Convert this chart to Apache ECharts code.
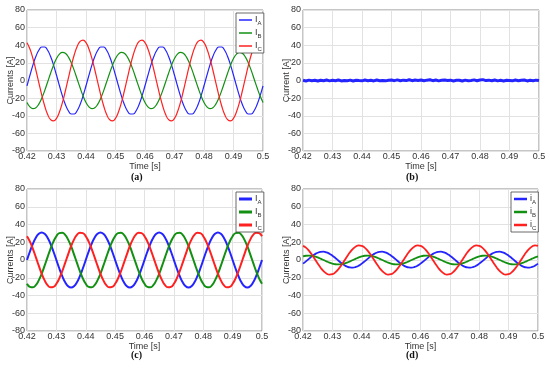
<!DOCTYPE html>
<html><head><meta charset="utf-8">
<script src="https://cdn.jsdelivr.net/npm/echarts@6/dist/echarts.min.js"></script>
<style>html,body{margin:0;padding:0;background:#fff}#c{width:550px;height:369px}</style>
</head><body><div id="c"></div>
<script>
// time samples [s]
const timeS = [0.42,0.421,0.422,0.423,0.424,0.425,0.426,0.427,0.428,0.429,0.43,0.431,0.432,0.433,0.434,0.435,0.436,0.437,0.438,0.439,0.44,0.441,0.442,0.443,0.444,0.445,0.446,0.447,0.448,0.449,0.45,0.451,0.452,0.453,0.454,0.455,0.456,0.457,0.458,0.459,0.46,0.461,0.462,0.463,0.464,0.465,0.466,0.467,0.468,0.469,0.47,0.471,0.472,0.473,0.474,0.475,0.476,0.477,0.478,0.479,0.48,0.481,0.482,0.483,0.484,0.485,0.486,0.487,0.488,0.489,0.49,0.491,0.492,0.493,0.494,0.495,0.496,0.497,0.498,0.499,0.5];
const xTicks = [0.42,0.43,0.44,0.45,0.46,0.47,0.48,0.49,0.5];
const yTicks = [-80,-60,-40,-20,0,20,40,60,80];

// (a) currents [A]
const aA = [-6.0,6.0,17.5,27.2,34.3,38.0,38.0,34.3,27.2,17.5,6.0,-6.0,-17.5,-27.2,-34.3,-38.0,-38.0,-34.3,-27.2,-17.5,
  -6.0,6.0,17.5,27.2,34.3,38.0,38.0,34.3,27.2,17.5,6.0,-6.0,-17.5,-27.2,-34.3,-38.0,-38.0,-34.3,-27.2,-17.5,
  -6.0,6.0,17.5,27.2,34.3,38.0,38.0,34.3,27.2,17.5,6.0,-6.0,-17.5,-27.2,-34.3,-38.0,-38.0,-34.3,-27.2,-17.5,
  -6.0,6.0,17.5,27.2,34.3,38.0,38.0,34.3,27.2,17.5,6.0,-6.0,-17.5,-27.2,-34.3,-38.0,-38.0,-34.3,-27.2,-17.5, -6.0];
const aB = [-24.9,-29.9,-32.0,-30.9,-26.8,-20.1,-11.5,-1.7,8.3,17.4,24.9,29.9,32.0,30.9,26.8,20.1,11.5,1.7,-8.3,-17.4,
  -24.9,-29.9,-32.0,-30.9,-26.8,-20.1,-11.5,-1.7,8.3,17.4,24.9,29.9,32.0,30.9,26.8,20.1,11.5,1.7,-8.3,-17.4,
  -24.9,-29.9,-32.0,-30.9,-26.8,-20.1,-11.5,-1.7,8.3,17.4,24.9,29.9,32.0,30.9,26.8,20.1,11.5,1.7,-8.3,-17.4,
  -24.9,-29.9,-32.0,-30.9,-26.8,-20.1,-11.5,-1.7,8.3,17.4,24.9,29.9,32.0,30.9,26.8,20.1,11.5,1.7,-8.3,-17.4, -24.9];
const aC = [42.9,35.7,25.1,11.9,-2.4,-16.5,-28.9,-38.6,-44.4,-45.9,-42.9,-35.7,-25.1,-11.9,2.4,16.5,28.9,38.6,44.4,45.9,
  42.9,35.7,25.1,11.9,-2.4,-16.5,-28.9,-38.6,-44.4,-45.9,-42.9,-35.7,-25.1,-11.9,2.4,16.5,28.9,38.6,44.4,45.9,
  42.9,35.7,25.1,11.9,-2.4,-16.5,-28.9,-38.6,-44.4,-45.9,-42.9,-35.7,-25.1,-11.9,2.4,16.5,28.9,38.6,44.4,45.9,
  42.9,35.7,25.1,11.9,-2.4,-16.5,-28.9,-38.6,-44.4,-45.9,-42.9,-35.7,-25.1,-11.9,2.4,16.5,28.9,38.6,44.4,45.9, 42.9];
// (b) current [A]
const bI = [0.3,-0.5,0.4,-0.3,0.2,-0.6,0.3,-0.2,0.5,-0.4, 0.2,-0.3,0.6,-0.5,0.1,-0.2,0.4,-0.6,0.3,-0.1, -0.4,0.5,-0.3,0.2,-0.5,0.6,-0.2,0.1,-0.4,0.3, 0.5,-0.2,0.7,-0.3,0.4,-0.1,0.9,-0.2,0.5,0.1, 0.6,-0.3,0.4,0.9,-0.2,0.5,-0.4,0.3,0.6,-0.1, 0.4,-0.5,0.2,0.3,-0.6,0.4,-0.2,0.1,0.7,-0.3, 0.5,1.0,-0.1,0.4,-0.3,0.6,-0.4,0.2,-0.5,0.3, 0.1,-0.4,0.5,-0.2,0.3,0.6,-0.5,0.2,-0.3,0.4, -0.1];
// (c) currents [A]
const cA = [0,9.6,18.2,25.1,29.5,31.0,29.5,25.1,18.2,9.6,0,-9.6,-18.2,-25.1,-29.5,-31.0,-29.5,-25.1,-18.2,-9.6,
  0,9.6,18.2,25.1,29.5,31.0,29.5,25.1,18.2,9.6,0,-9.6,-18.2,-25.1,-29.5,-31.0,-29.5,-25.1,-18.2,-9.6,
  0,9.6,18.2,25.1,29.5,31.0,29.5,25.1,18.2,9.6,0,-9.6,-18.2,-25.1,-29.5,-31.0,-29.5,-25.1,-18.2,-9.6,
  0,9.6,18.2,25.1,29.5,31.0,29.5,25.1,18.2,9.6,0,-9.6,-18.2,-25.1,-29.5,-31.0,-29.5,-25.1,-18.2,-9.6, 0];
const cB = [-26.8,-30.3,-30.8,-28.3,-23.0,-15.5,-6.4,3.3,12.6,20.7,26.8,30.3,30.8,28.3,23.0,15.5,6.4,-3.3,-12.6,-20.7,
  -26.8,-30.3,-30.8,-28.3,-23.0,-15.5,-6.4,3.3,12.6,20.7,26.8,30.3,30.8,28.3,23.0,15.5,6.4,-3.3,-12.6,-20.7,
  -26.8,-30.3,-30.8,-28.3,-23.0,-15.5,-6.4,3.3,12.6,20.7,26.8,30.3,30.8,28.3,23.0,15.5,6.4,-3.3,-12.6,-20.7,
  -26.8,-30.3,-30.8,-28.3,-23.0,-15.5,-6.4,3.3,12.6,20.7,26.8,30.3,30.8,28.3,23.0,15.5,6.4,-3.3,-12.6,-20.7, -26.8];
const cC = [26.8,20.7,12.6,3.3,-6.4,-15.5,-23.0,-28.3,-30.8,-30.3,-26.8,-20.7,-12.6,-3.3,6.4,15.5,23.0,28.3,30.8,30.3,
  26.8,20.7,12.6,3.3,-6.4,-15.5,-23.0,-28.3,-30.8,-30.3,-26.8,-20.7,-12.6,-3.3,6.4,15.5,23.0,28.3,30.8,30.3,
  26.8,20.7,12.6,3.3,-6.4,-15.5,-23.0,-28.3,-30.8,-30.3,-26.8,-20.7,-12.6,-3.3,6.4,15.5,23.0,28.3,30.8,30.3,
  26.8,20.7,12.6,3.3,-6.4,-15.5,-23.0,-28.3,-30.8,-30.3,-26.8,-20.7,-12.6,-3.3,6.4,15.5,23.0,28.3,30.8,30.3, 26.8];
// (d) currents [A]
const dA = [-4.1,-1.5,1.3,4.1,6.4,8.2,9.2,9.4,8.6,7.1,4.9,2.3,-0.5,-3.3,-5.6,-7.4,-8.4,-8.6,-7.8,-6.3,
  -4.1,-1.5,1.3,4.1,6.4,8.2,9.2,9.4,8.6,7.1,4.9,2.3,-0.5,-3.3,-5.6,-7.4,-8.4,-8.6,-7.8,-6.3,
  -4.1,-1.5,1.3,4.1,6.4,8.2,9.2,9.4,8.6,7.1,4.9,2.3,-0.5,-3.3,-5.6,-7.4,-8.4,-8.6,-7.8,-6.3,
  -4.1,-1.5,1.3,4.1,6.4,8.2,9.2,9.4,8.6,7.1,4.9,2.3,-0.5,-3.3,-5.6,-7.4,-8.4,-8.6,-7.8,-6.3, -4.1];
const dB = [4.0,4.8,5.0,4.8,4.0,2.9,1.5,0,-1.5,-2.9,-4.0,-4.8,-5.0,-4.8,-4.0,-2.9,-1.5,0,1.5,2.9,
  4.0,4.8,5.0,4.8,4.0,2.9,1.5,0,-1.5,-2.9,-4.0,-4.8,-5.0,-4.8,-4.0,-2.9,-1.5,0,1.5,2.9,
  4.0,4.8,5.0,4.8,4.0,2.9,1.5,0,-1.5,-2.9,-4.0,-4.8,-5.0,-4.8,-4.0,-2.9,-1.5,0,1.5,2.9,
  4.0,4.8,5.0,4.8,4.0,2.9,1.5,0,-1.5,-2.9,-4.0,-4.8,-5.0,-4.8,-4.0,-2.9,-1.5,0,1.5,2.9, 4.0];
const dC = [16.0,14.0,10.6,6.2,1.2,-4.0,-8.7,-12.6,-15.3,-16.5,-16.0,-14.0,-10.6,-6.2,-1.2,4.0,8.7,12.6,15.3,16.5,
  16.0,14.0,10.6,6.2,1.2,-4.0,-8.7,-12.6,-15.3,-16.5,-16.0,-14.0,-10.6,-6.2,-1.2,4.0,8.7,12.6,15.3,16.5,
  16.0,14.0,10.6,6.2,1.2,-4.0,-8.7,-12.6,-15.3,-16.5,-16.0,-14.0,-10.6,-6.2,-1.2,4.0,8.7,12.6,15.3,16.5,
  16.0,14.0,10.6,6.2,1.2,-4.0,-8.7,-12.6,-15.3,-16.5,-16.0,-14.0,-10.6,-6.2,-1.2,4.0,8.7,12.6,15.3,16.5, 16.0];

const BLUE = '#2424ff', GREEN = '#129012', RED = '#ff2020';
const FONT = '"Liberation Sans", Arial, sans-serif';

const grids = [
  {left: 27, top: 10, width: 236, height: 141},
  {left: 303, top: 10, width: 236, height: 141},
  {left: 27, top: 189, width: 235, height: 142},
  {left: 303, top: 189, width: 235, height: 142}
];
const yNames = ['Currents [A]', 'Current [A]', 'Currents [A]', 'Currents [A]'];

const chart = echarts.init(document.getElementById('c'), null, {renderer: 'canvas'});
const pair = (ts, vs) => ts.map((t, i) => [t, vs[i]]);
const line = (name, gi, ts, vs, color, w, smooth) => ({
  name, type: 'line', xAxisIndex: gi, yAxisIndex: gi, data: pair(ts, vs),
  smooth: smooth, showSymbol: false, symbol: 'none', animation: false,
  lineStyle: {color, width: w}, itemStyle: {color}
});

const legendNames = {aA:['I','A'],aB:['I','B'],aC:['I','C'],cA:['I','A'],cB:['I','B'],cC:['I','C'],dA:['i','A'],dB:['i','B'],dC:['i','C']};
const mkLegend = (names, left, top, h) => ({
  data: names, orient: 'vertical', left, top, itemGap: 1,
  icon: 'rect', itemWidth: 13, itemHeight: h,
  backgroundColor: '#fff', borderColor: '#444', borderWidth: 0.8, borderRadius: 0,
  padding: [1, 2, 1, 3], selectedMode: false,
  formatter: n => '{i|' + legendNames[n][0] + '}{s|' + legendNames[n][1] + '}',
  textStyle: {fontFamily: FONT, color: '#333', padding: [0, 0, 0, -2],
    rich: {i: {fontSize: 9, lineHeight: 11, fontFamily: FONT, color: '#333'},
           s: {fontSize: 6, lineHeight: 11, fontFamily: FONT, color: '#333', padding: [6, 0, 0, 0]}}}
});

const option = {
  animation: false,
  backgroundColor: '#fff',
  grid: grids.map(g => Object.assign({show: true, borderColor: '#8c8c8c', borderWidth: 1, backgroundColor: 'transparent'}, g)),
  xAxis: grids.map((g, i) => ({
    type: 'value', gridIndex: i, min: xTicks[0], max: xTicks[xTicks.length - 1], interval: 0.01,
    name: 'Time [s]', nameLocation: 'middle', nameGap: 10, nameMoveOverlap: false,
    nameTextStyle: {fontFamily: FONT, fontSize: 9, color: '#333', verticalAlign: 'top', padding: [1, 0, 0, 0]},
    axisLine: {show: false}, axisTick: {show: false},
    axisLabel: {fontFamily: FONT, fontSize: 9, color: '#333', margin: 1,
      formatter: v => String(+v.toFixed(2)), showMinLabel: true, showMaxLabel: true},
    splitLine: {show: true, lineStyle: {color: '#e2e2e2', width: 1}}
  })),
  yAxis: grids.map((g, i) => ({
    type: 'value', gridIndex: i, min: yTicks[0], max: yTicks[yTicks.length - 1], interval: 20,
    name: yNames[i], nameLocation: 'middle', nameGap: 12, nameMoveOverlap: false,
    nameTextStyle: {fontFamily: FONT, fontSize: 9, color: '#333'},
    axisLine: {show: false}, axisTick: {show: false},
    axisLabel: {fontFamily: FONT, fontSize: 9, color: '#333', margin: 2},
    splitLine: {show: true, lineStyle: {color: '#e2e2e2', width: 1}}
  })),
  legend: [
    mkLegend(['aA','aB','aC'], 236, 13, 1.5),
    mkLegend(['cA','cB','cC'], 236, 192, 3),
    mkLegend(['dA','dB','dC'], 511, 192, 2.5)
  ],
  series: [
    line('aA', 0, timeS, aA, BLUE, 1.2, true),
    line('aB', 0, timeS, aB, GREEN, 1.2, true),
    line('aC', 0, timeS, aC, RED, 1.2, true),
    line('bI', 1, timeS, bI, BLUE, 3, false),
    line('cA', 2, timeS, cA, BLUE, 2, true),
    line('cB', 2, timeS, cB, GREEN, 2, true),
    line('cC', 2, timeS, cC, RED, 2, true),
    line('dA', 3, timeS, dA, BLUE, 1.8, true),
    line('dB', 3, timeS, dB, GREEN, 1.8, true),
    line('dC', 3, timeS, dC, RED, 1.8, true)
  ],
  graphic: [
    {type: 'text', left: 131, top: 172, style: {text: '(a)', font: 'bold 10px "Liberation Serif", serif', fill: '#111'}},
    {type: 'text', left: 406, top: 172, style: {text: '(b)', font: 'bold 10px "Liberation Serif", serif', fill: '#111'}},
    {type: 'text', left: 131, top: 350, style: {text: '(c)', font: 'bold 10px "Liberation Serif", serif', fill: '#111'}},
    {type: 'text', left: 406, top: 350, style: {text: '(d)', font: 'bold 10px "Liberation Serif", serif', fill: '#111'}}
  ]
};
chart.setOption(option);
</script></body></html>
